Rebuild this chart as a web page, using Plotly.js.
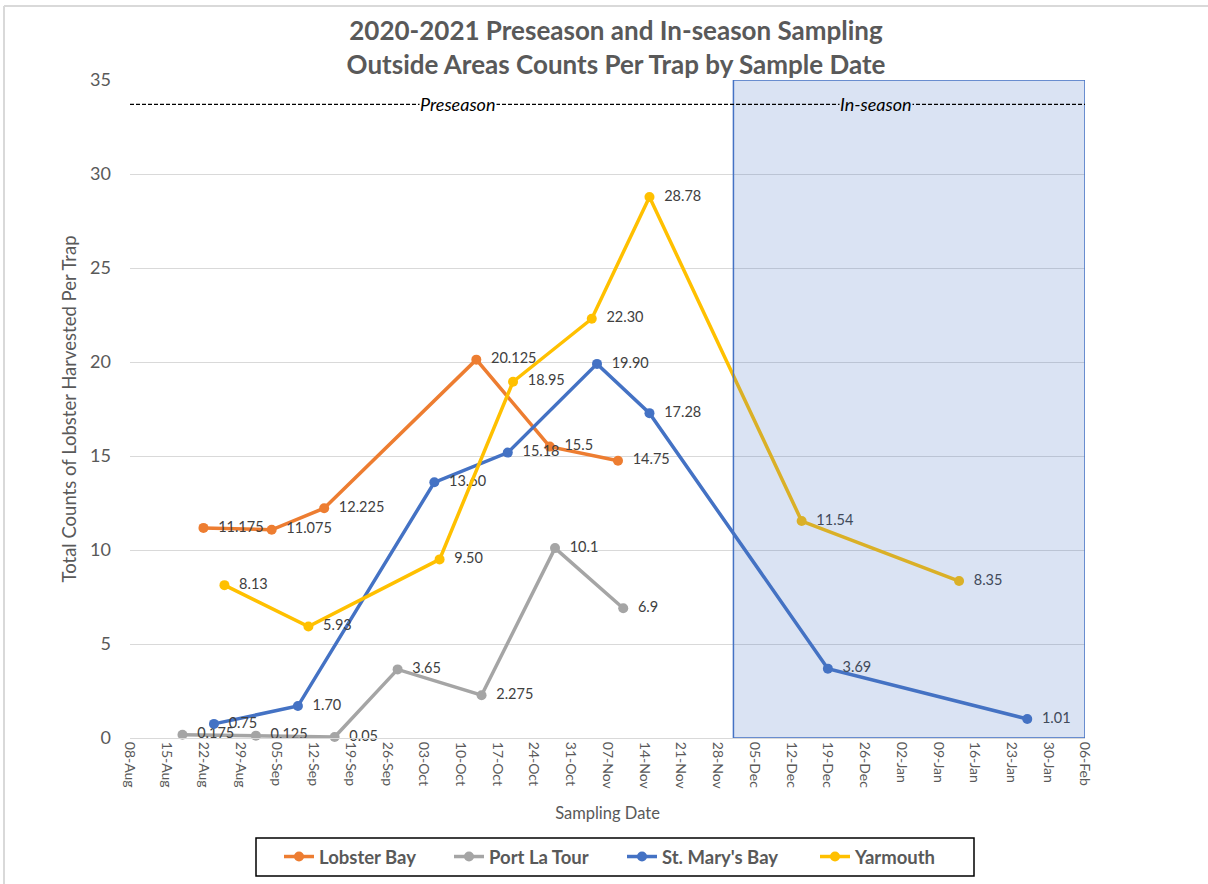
<!DOCTYPE html>
<html>
<head>
<meta charset="utf-8">
<script src="https://cdn.plot.ly/plotly-3.0.1.min.js"></script>
<style>
  html, body { margin: 0; padding: 0; background: #ffffff; }
  #chart { width: 1208px; height: 884px; }
</style>
</head>
<body>
<div id="chart"></div>
<script>
// ---- Data ----
const seriesNames = ["Lobster Bay", "Port La Tour", "St. Mary's Bay", "Yarmouth"];

const lobsterDates = ["2020-08-22", "2020-09-04", "2020-09-14", "2020-10-13", "2020-10-27", "2020-11-09"];
const lobsterVals  = [11.175, 11.075, 12.225, 20.125, 15.5, 14.75];

const portDates = ["2020-08-18", "2020-09-01", "2020-09-16", "2020-09-28", "2020-10-14", "2020-10-28", "2020-11-10"];
const portVals  = [0.175, 0.125, 0.05, 3.65, 2.275, 10.1, 6.9];

const stmDates = ["2020-08-24", "2020-09-09", "2020-10-05", "2020-10-19", "2020-11-05", "2020-11-15", "2020-12-19", "2021-01-26"];
const stmVals  = [0.75, 1.70, 13.60, 15.18, 19.90, 17.28, 3.69, 1.01];

const yarDates = ["2020-08-26", "2020-09-11", "2020-10-06", "2020-10-20", "2020-11-04", "2020-11-15", "2020-12-14", "2021-01-13"];
const yarVals  = [8.13, 5.93, 9.50, 18.95, 22.30, 28.78, 11.54, 8.35];

const xRange = ["2020-08-08", "2021-02-06"];
const yRange = [0, 35];
const inSeasonStart = "2020-12-01";
const seasonLineY = 33.7;
const periodLabels = ["Preseason", "In-season"];

const titleText = "2020-2021 Preseason and In-season Sampling<br>Outside Areas Counts Per Trap by Sample Date";
const xTitle = "Sampling Date";
const yTitle = "Total Counts of Lobster Harvested Per Trap";

// ---- Styling ----
const W = 1208, H = 884;
const colors = ["#ED7D31", "#A5A5A5", "#4472C4", "#FFC000"];
const FONT = "Lato, 'Open Sans', sans-serif";
const GREY = "#595959";
const PAD = "\u00a0\u00a0";
const legendIds = ["legend", "legend2", "legend3", "legend4"];
const legendLineStartPx = [284, 454, 627, 820];

function mkTrace(i, x, y, labels) {
  return {
    type: "scatter",
    mode: "lines+markers+text",
    name: seriesNames[i],
    legend: legendIds[i],
    x: x,
    y: y,
    text: labels.map(s => PAD + s),
    textposition: "middle right",
    textfont: { family: FONT, size: 14.5, color: "#404040" },
    line: { color: colors[i], width: 3.5 },
    marker: { color: colors[i], size: 10 },
    cliponaxis: false,
    hoverinfo: "x+y+name"
  };
}

const traces = [
  mkTrace(0, lobsterDates, lobsterVals, lobsterVals.map(v => String(v))),
  mkTrace(1, portDates, portVals, portVals.map(v => String(v))),
  mkTrace(2, stmDates, stmVals, stmVals.map(v => v.toFixed(2))),
  mkTrace(3, yarDates, yarVals, yarVals.map(v => v.toFixed(2)))
];

function mkLegend(i) {
  return {
    orientation: "h",
    xref: "container", yref: "container",
    x: (legendLineStartPx[i] - 5) / W, xanchor: "left",
    y: 1 - 857 / H, yanchor: "middle",
    bgcolor: "rgba(0,0,0,0)",
    borderwidth: 0,
    font: { family: FONT, size: 18.5, color: GREY, weight: "bold" },
    itemclick: false
  };
}

const layout = {
  width: W,
  height: H,
  margin: { l: 130, r: 123, t: 80, b: 146 },
  paper_bgcolor: "#ffffff",
  plot_bgcolor: "#ffffff",
  font: { family: FONT, color: GREY },
  title: {
    text: titleText,
    font: { family: FONT, size: 26, color: GREY, weight: "bold" },
    x: 616 / W, xref: "container", xanchor: "center",
    y: 1 - 40 / H, yref: "container", yanchor: "middle"
  },
  xaxis: {
    type: "date",
    range: xRange,
    tick0: xRange[0],
    dtick: 7 * 24 * 3600 * 1000,
    tickformat: "%d-%b",
    tickangle: 90,
    tickfont: { family: FONT, size: 14, color: GREY },
    showgrid: false,
    zeroline: false,
    showline: true,
    linecolor: "#D9D9D9",
    linewidth: 1,
    ticks: "",
    title: { text: xTitle, font: { family: FONT, size: 16.5, color: GREY }, standoff: 18 }
  },
  yaxis: {
    range: yRange,
    dtick: 5,
    tick0: 0,
    showgrid: true,
    gridcolor: "#D9D9D9",
    gridwidth: 1,
    zeroline: false,
    showline: false,
    ticks: "",
    ticklabelstandoff: 18,
    tickfont: { family: FONT, size: 18, color: GREY },
    title: { text: yTitle, font: { family: FONT, size: 18.5, color: GREY }, standoff: 8 }
  },
  legend: mkLegend(0),
  legend2: mkLegend(1),
  legend3: mkLegend(2),
  legend4: mkLegend(3),
  shapes: [
    // In-season shaded region (semi-transparent, above the lines)
    {
      type: "rect", layer: "above",
      xref: "x", yref: "y",
      x0: inSeasonStart, x1: xRange[1], y0: yRange[0], y1: yRange[1],
      fillcolor: "rgba(68,114,196,0.2)",
      line: { color: "#4472C4", width: 1.5 }
    },
    // Season divider dashed line
    {
      type: "line", layer: "above",
      xref: "paper", yref: "y",
      x0: 0, x1: 1, y0: seasonLineY, y1: seasonLineY,
      line: { color: "#000000", width: 1.2, dash: "4px,2px" }
    },
    // chart frame (light grey border top & left)
    {
      type: "line", xref: "paper", yref: "paper",
      x0: -126 / 955, x1: -126 / 955, y0: 732 / 658, y1: -0.3,
      line: { color: "#D9D9D9", width: 2 }
    },
    {
      type: "line", xref: "paper", yref: "paper",
      x0: -126 / 955, x1: 1.2, y0: 732 / 658, y1: 732 / 658,
      line: { color: "#D9D9D9", width: 2 }
    },
    // legend box
    {
      type: "rect", xref: "paper", yref: "paper",
      x0: (256 - 130) / 955, x1: (974 - 130) / 955,
      y0: (738 - 838) / 658, y1: (738 - 876) / 658,
      fillcolor: "#ffffff",
      line: { color: "#000000", width: 1.5 }
    }
  ],
  annotations: [
    {
      text: "<i>" + periodLabels[0] + "</i>",
      xref: "paper", yref: "y", x: (458 - 130) / 955, y: seasonLineY,
      showarrow: false, bgcolor: "#ffffff", borderpad: 0,
      font: { family: FONT, size: 18, color: "#000000" }
    },
    {
      text: "<i>" + periodLabels[1] + "</i>",
      xref: "paper", yref: "y", x: (913 - 130) / 955, y: seasonLineY,
      showarrow: false, bgcolor: "rgb(218,227,243)", borderpad: 0,
      font: { family: FONT, size: 18, color: "#000000" }
    }
  ],
  showlegend: true
};

Plotly.newPlot("chart", traces, layout, { displayModeBar: false, staticPlot: true });
</script>
</body>
</html>
